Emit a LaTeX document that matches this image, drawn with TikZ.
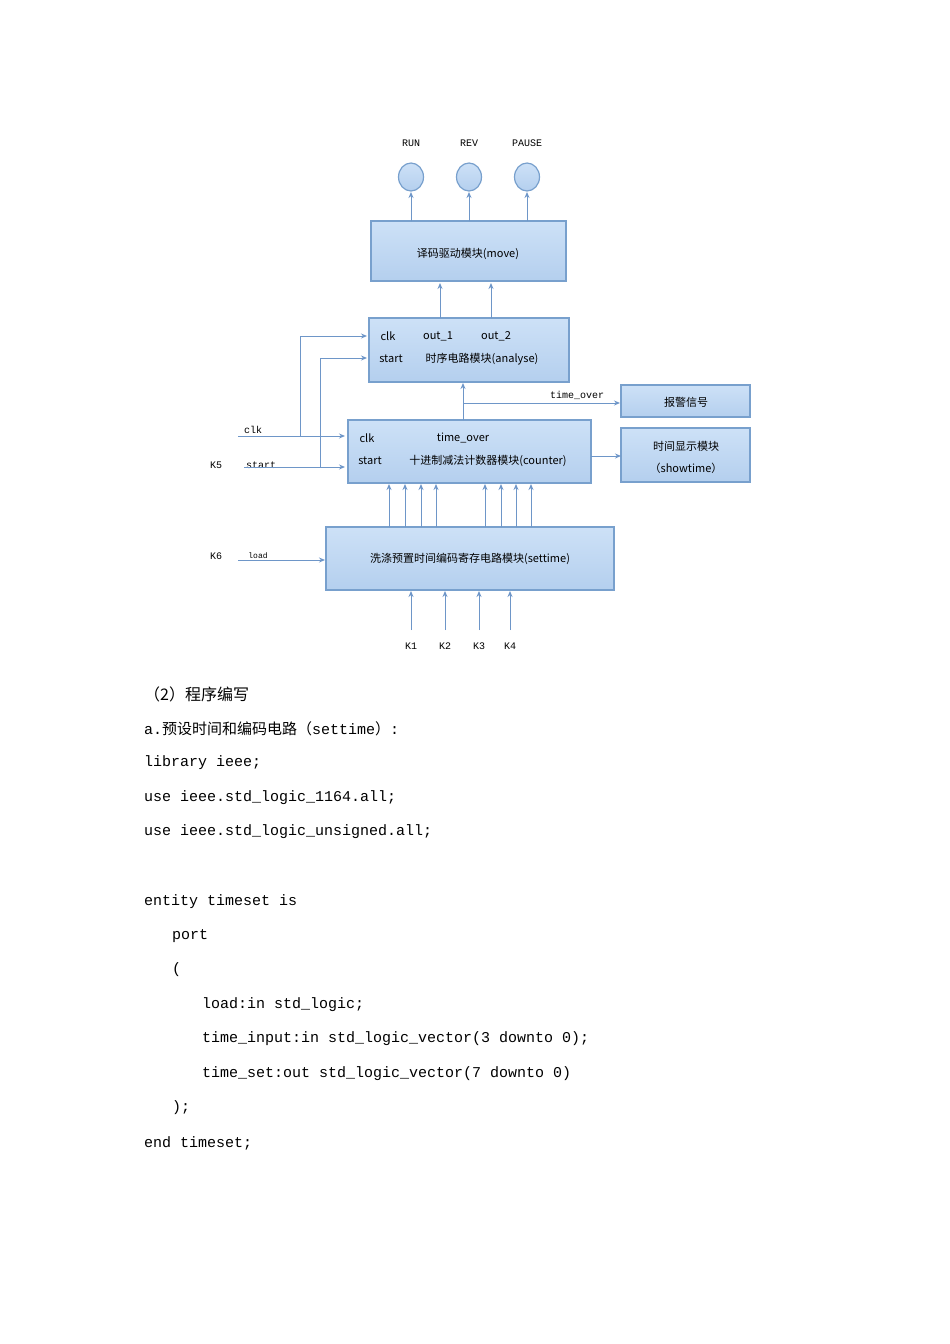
\documentclass[tikz,border=0pt]{standalone}
\usepackage{fontspec}
\setmainfont{Liberation Serif}
\newfontfamily\cjk{Noto Sans CJK SC}
\newfontfamily\mono{Liberation Mono}
\usetikzlibrary{arrows.meta}
\definecolor{bx}{RGB}{180,207,238}
\definecolor{bxt}{RGB}{205,225,247}
\definecolor{bd}{RGB}{120,160,205}
\definecolor{ln}{RGB}{110,150,200}
\begin{document}
\begin{tikzpicture}[x=1pt,y=-1pt,
 blk/.style={draw=bd,line width=1.2pt,top color=bxt,bottom color=bx},
 ar/.style={draw=ln,line width=1pt,-{Stealth[length=6pt,width=5pt]}},
 ln/.style={draw=ln,line width=1pt},
 t/.style={font=\fontsize{11}{12}\selectfont\cjk,inner sep=0pt},
 s/.style={font=\fontsize{10}{12}\selectfont\mono,inner sep=0pt},
 c/.style={font=\fontsize{15}{16}\selectfont\mono,inner sep=0pt,anchor=west}]
\useasboundingbox (0,0) rectangle (950,1344);
% boxes
\path[blk] (371,221) rectangle (566,281); \node[t] (mv) at (468,254) {译码驱动模块(move)};
\path[blk] (369,318) rectangle (569,382);
\coordinate (an) at (469,350);
\node[t] at (388,336) {clk}; \node[t] at (438,336) {out\_1}; \node[t] at (496,336) {out\_2};
\node[t] at (391,359) {start}; \node[t] at (482,359) {时序电路模块(analyse)};
\path[blk] (348,420) rectangle (591,483);
\node[t] at (367,438) {clk}; \node[t] at (463,438) {time\_over};
\node[t] at (370,461) {start}; \node[t] at (488,461) {十进制减法计数器模块(counter)};
\path[blk] (326,527) rectangle (614,590); \node[t] (st) at (470,559) {洗涤预置时间编码寄存电路模块(settime)};
\path[blk] (621,385) rectangle (750,417); \node[t] (bj) at (686,402) {报警信号};
\path[blk] (621,428) rectangle (750,482); \node[t] at (686,446) {时间显示模块}; \node[t] at (686,468) {（showtime）};
% circles
\foreach \x/\l in {411/RUN,469/REV,527/PAUSE}{
 \path[blk] (\x,177) ellipse (12.5 and 14);
 \node[s] at (\x,143) {\l};
 \draw[ar] (\x,221) -- (\x,192);}
\draw[ar] (440,318) -- (440,283);
\draw[ar] (491,318) -- (491,283);
\draw[ar] (463,420) -- (463,383);
\draw[ar] (463,403) -- (620,403);
\node[s] at (577,395) {time\_over};
% clk / start
\node[s] at (253,430) {clk}; \node[s] at (261,465) {start};
\node[s] at (216,465) {K5};
\draw[ar] (238,436) -- (345,436);
\draw[ar] (244,467) -- (345,467);
\draw[ar] (300,436) -- (300,336) -- (367,336);
\draw[ar] (320,467) -- (320,358) -- (367,358);
\draw[ar] (591,456) -- (621,456);
\foreach \x in {389,405,421,436,485,501,516,531} \draw[ar] (\x,527) -- (\x,484);
\node[s] at (216,556) {K6}; \node[font=\fontsize{8}{9}\selectfont\mono,inner sep=0pt] at (258,556) {load};
\draw[ar] (238,560) -- (325,560);
\foreach \x/\l in {411/K1,445/K2,479/K3,510/K4}{\draw[ar] (\x,630) -- (\x,591); \node[s] at (\x,646) {\l};}
% text
\node[c,font=\fontsize{16}{16}\selectfont\cjk] at (144,694) {（2）程序编写};
\node[c] at (144,729) {a.{\cjk 预设时间和编码电路（}settime{\cjk ）}:};
\node[c] at (144,763) {library ieee;};
\node[c] at (144,798) {use ieee.std\_logic\_1164.all;};
\node[c] at (144,832) {use ieee.std\_logic\_unsigned.all;};
\node[c] at (144,902) {entity timeset is};
\node[c] at (172,936) {port};
\node[c] at (172,970) {(};
\node[c] at (202,1005) {load:in std\_logic;};
\node[c] at (202,1039) {time\_input:in std\_logic\_vector(3 downto 0);};
\node[c] at (202,1074) {time\_set:out std\_logic\_vector(7 downto 0)};
\node[c] at (172,1108) {);};
\node[c] at (144,1143) {end timeset;};
\end{tikzpicture}
\end{document}
